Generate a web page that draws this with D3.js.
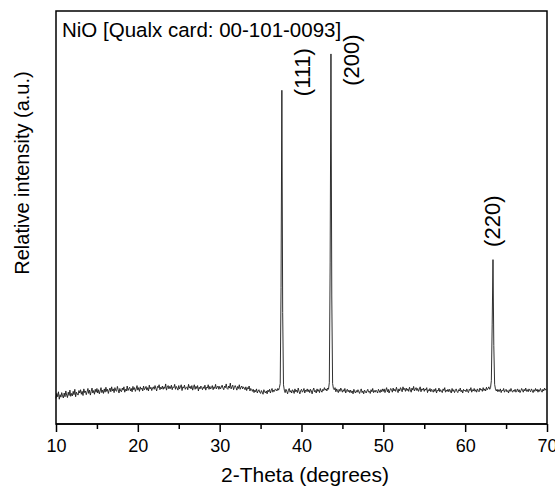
<!DOCTYPE html>
<html>
<head>
<meta charset="utf-8">
<script src="https://cdn.jsdelivr.net/npm/d3@7"></script>
<style>
  body { margin: 0; background: #fff; }
  svg { display: block; font-family: "Liberation Sans", Arial, sans-serif; }
  .axis path, .axis line { stroke: #000; stroke-width: 1.5; }
  .axis text { font-size: 18px; fill: #000; }
</style>
</head>
<body>
<div id="chart"></div>
<script>
// XRD scan, 2-theta from 10.0 deg in 0.1 deg steps (one row per degree)
const thetaStart = 10
const thetaStep = 0.1
const intensity = [
  62, 74, 66, 78, 60, 71, 65, 76, 68, 63,
  75, 66, 80, 70, 64, 77, 69, 82, 67, 74,
  68, 79, 71, 84, 66, 77, 73, 70, 81, 75,
  83, 72, 79, 69, 85, 76, 80, 71, 78, 86,
  74, 82, 70, 79, 87, 75, 81, 72, 84, 77,
  86, 75, 83, 73, 80, 88, 76, 82, 74, 85,
  77, 89, 79, 84, 74, 82, 87, 78, 90, 80,
  85, 76, 88, 81, 79, 91, 83, 75, 86, 80,
  78, 87, 82, 90, 77, 84, 80, 92, 81, 86,
  89, 80, 86, 78, 91, 83, 88, 79, 85, 93,
  82, 88, 79, 90, 84, 87, 80, 92, 83, 86,
  91, 82, 88, 80, 94, 85, 89, 81, 87, 90,
  84, 93, 86, 80, 91, 88, 95, 83, 89, 85,
  92, 84, 90, 86, 97, 82, 89, 93, 85, 91,
  86, 94, 83, 90, 88, 96, 84, 91, 87, 82,
  93, 85, 89, 95, 81, 90, 87, 94, 84, 88,
  90, 83, 96, 87, 91, 85, 93, 82, 89, 95,
  84, 91, 86, 93, 80, 89, 85, 92, 88, 83,
  90, 86, 94, 82, 89, 87, 95, 84, 91, 85,
  88, 93, 83, 90, 86, 96, 85, 89, 92, 84,
  91, 85, 89, 94, 87, 83, 92, 88, 97, 86,
  84, 92, 87, 99, 85, 90, 94, 83, 89, 93,
  88, 82, 91, 86, 95, 84, 89, 92, 85, 90,
  87, 83, 90, 81, 88, 85, 92, 80, 86, 84,
  79, 84, 76, 82, 78, 85, 75, 80, 83, 77,
  74, 81, 77, 72, 83, 78, 75, 80, 73, 82,
  78, 84, 75, 81, 86, 77, 82, 79, 85, 83,
  80, 86, 82, 88, 98, 330, 808, 270, 95, 82,
  76, 84, 79, 73, 82, 86, 77, 81, 75, 83,
  80, 74, 85, 78, 82, 76, 87, 79, 73, 81,
  84, 77, 80, 86, 75, 82, 79, 85, 78, 83,
  76, 84, 80, 73, 82, 87, 78, 81, 75, 85,
  79, 83, 76, 86, 80, 77, 84, 81, 88, 82,
  85, 80, 87, 84, 100, 390, 896, 310, 98, 86,
  83, 88, 78, 85, 80, 76, 84, 79, 87, 82,
  77, 83, 79, 86, 75, 81, 84, 78, 82, 76,
  82, 76, 80, 73, 84, 78, 75, 81, 77, 83,
  78, 74, 81, 85, 76, 80, 73, 82, 79, 75,
  80, 84, 77, 79, 74, 83, 78, 86, 76, 81,
  77, 82, 79, 75, 84, 80, 76, 83, 78, 85,
  79, 85, 76, 82, 88, 78, 84, 75, 81, 86,
  83, 77, 87, 80, 84, 79, 89, 82, 76, 85,
  80, 88, 84, 78, 90, 83, 86, 79, 87, 81,
  85, 79, 89, 83, 77, 87, 82, 91, 80, 84,
  88, 81, 86, 79, 84, 90, 78, 85, 82, 87,
  79, 85, 82, 88, 76, 83, 80, 86, 78, 84,
  81, 77, 84, 79, 86, 75, 82, 80, 87, 78,
  83, 79, 76, 85, 81, 88, 77, 82, 79, 84,
  78, 84, 80, 75, 86, 79, 83, 76, 81, 85,
  79, 76, 83, 80, 87, 78, 82, 75, 84, 80,
  82, 78, 85, 79, 76, 84, 81, 88, 77, 83,
  80, 86, 79, 83, 77, 85, 81, 78, 87, 82,
  84, 79, 88, 81, 85, 80, 89, 83, 86, 90,
  84, 88, 105, 240, 398, 190, 96, 85, 80, 84,
  78, 83, 79, 85, 76, 82, 80, 86, 77, 81,
  84, 78, 81, 75, 83, 79, 86, 80, 77, 82,
  79, 84, 77, 81, 85, 78, 83, 76, 80, 86,
  82, 77, 84, 80, 87, 79, 83, 78, 85, 81,
  78, 85, 81, 76, 83, 79, 86, 80, 84, 77,
  83, 79, 86, 81, 77, 84, 80, 87, 82, 85
]

// reflections and where their labels sit (2-theta, intensity)
const hkl = ['(111)', '(200)', '(220)']
const labelTheta = [40.1, 46.1, 63.35]
const labelIntensity = [852, 881, 491]

const xTicks = [10, 20, 30, 40, 50, 60, 70]
const xMinorTicks = [15, 25, 35, 45, 55, 65]

const title = 'NiO [Qualx card: 00-101-0093]'
const xLabel = '2-Theta (degrees)'
const yLabel = 'Relative intensity (a.u.)'

let margin = { top: 11, right: 8, bottom: 64, left: 56 }
let width = 555 - margin.left - margin.right
let height = 488 - margin.top - margin.bottom

let svg = d3.select('#chart')
  .append('svg')
  .attr('width', 555)
  .attr('height', 488)

let g = svg.append('g')
  .attr('transform', `translate(${margin.left},${margin.top})`)

let x = d3.scaleLinear()
  .domain([10, 70])
  .range([0, width])

let y = d3.scaleLinear()
  .domain([0, 1000])
  .range([height, 0])

let scan = intensity.map((v, i) => [thetaStart + i * thetaStep, v])

let line = d3.line()
  .x(d => x(d[0]))
  .y(d => y(d[1]))

g.append('path')
  .datum(scan)
  .attr('fill', 'none')
  .attr('stroke', '#1a1a1a')
  .attr('stroke-width', 0.9)
  .attr('stroke-linejoin', 'round')
  .attr('d', line)

// frame
g.append('rect')
  .attr('width', width)
  .attr('height', height)
  .attr('fill', 'none')
  .attr('stroke', '#000')
  .attr('stroke-width', 1.5)

g.append('g')
  .attr('class', 'axis')
  .attr('transform', `translate(0,${height})`)
  .call(d3.axisBottom(x).tickValues(xMinorTicks).tickSize(5).tickFormat(''))
  .call(a => a.select('.domain').remove())

g.append('g')
  .attr('class', 'axis')
  .attr('transform', `translate(0,${height})`)
  .call(d3.axisBottom(x).tickValues(xTicks).tickSize(8).tickPadding(7).tickFormat(d3.format('d')))
  .call(a => a.select('.domain').attr('d', `M0,0H${width}`))

g.selectAll('.hkl')
  .data(hkl)
  .enter().append('text')
  .attr('class', 'hkl')
  .attr('transform', (d, i) => `translate(${x(labelTheta[i])},${y(labelIntensity[i])}) rotate(-90)`)
  .attr('text-anchor', 'middle')
  .attr('dominant-baseline', 'central')
  .attr('font-size', 22)
  .text(d => d)

g.append('text')
  .attr('x', 6)
  .attr('y', 26)
  .attr('font-size', 20.5)
  .text(title)

svg.append('text')
  .attr('text-anchor', 'middle')
  .attr('x', 305)
  .attr('y', 482)
  .attr('font-size', 21)
  .text(xLabel)

svg.append('text')
  .attr('text-anchor', 'middle')
  .attr('transform', 'translate(29,173) rotate(-90)')
  .attr('font-size', 20)
  .text(yLabel)
</script>
</body>
</html>
